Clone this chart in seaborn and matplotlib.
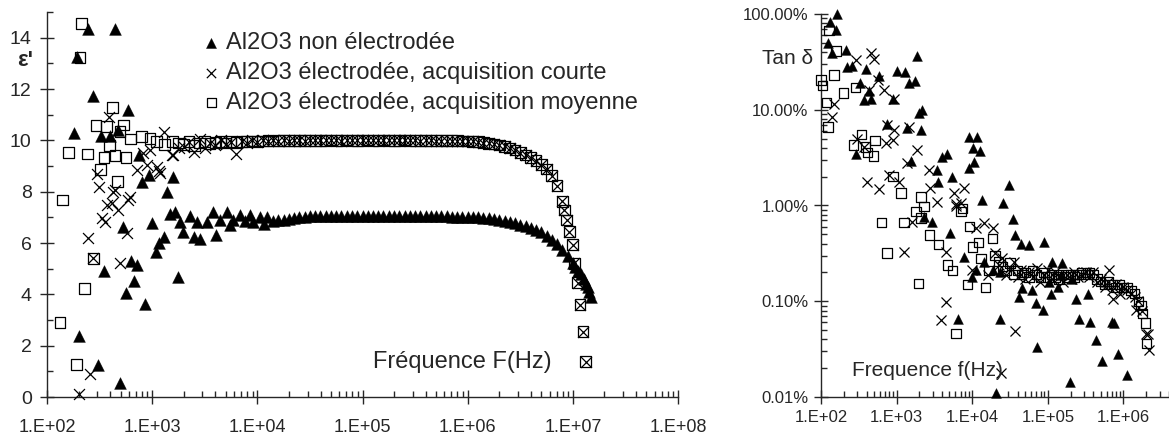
import matplotlib
matplotlib.use("Agg")
import matplotlib.pyplot as plt
from matplotlib import font_manager
from matplotlib.ticker import LogLocator, FuncFormatter, MultipleLocator, NullFormatter
import numpy as np
import pandas as pd
import seaborn as sns

sns.set_style("ticks")
plt.rcParams['font.family'] = ['Liberation Sans', 'DejaVu Sans']

# ---------------- data ----------------
# frequency sweep grid (Hz) shared by the dense parts of the measurements
f_sweep = [2.00e3, 2.24e3, 2.51e3, 2.82e3, 3.16e3, 3.55e3, 3.98e3, 4.47e3, 5.01e3, 5.62e3,
           6.31e3, 7.08e3, 7.94e3, 8.91e3,
           1.00e4, 1.12e4, 1.26e4, 1.41e4, 1.58e4, 1.78e4, 2.00e4, 2.24e4, 2.51e4, 2.82e4,
           3.16e4, 3.55e4, 3.98e4, 4.47e4, 5.01e4, 5.62e4, 6.31e4, 7.08e4, 7.94e4, 8.91e4,
           1.00e5, 1.12e5, 1.26e5, 1.41e5, 1.58e5, 1.78e5, 2.00e5, 2.24e5, 2.51e5, 2.82e5,
           3.16e5, 3.55e5, 3.98e5, 4.47e5, 5.01e5, 5.62e5, 6.31e5, 7.08e5, 7.94e5, 8.91e5,
           1.00e6, 1.12e6, 1.26e6, 1.41e6, 1.58e6, 1.78e6, 2.00e6, 2.24e6, 2.51e6, 2.82e6,
           3.16e6, 3.55e6, 3.98e6, 4.47e6, 5.01e6, 5.62e6, 6.31e6, 7.08e6, 7.94e6, 8.91e6,
           1.00e7]

labels = ['Al2O3 non électrodée',
          'Al2O3 électrodée, acquisition courte',
          'Al2O3 électrodée, acquisition moyenne']

left_xticks = [1e2, 1e3, 1e4, 1e5, 1e6, 1e7, 1e8]
right_xticks = [1e2, 1e3, 1e4, 1e5, 1e6]
right_yticks = [1e-4, 1e-3, 1e-2, 1e-1, 1]

# --- epsilon' , non electrodee (triangles)
eps_tri_f = [181, 192, 203, 244, 276, 308, 324, 348, 398, 444, 477, 495, 532, 565, 595,
             627, 677, 715, 752, 808, 858, 924, 990, 1090, 1170, 1300, 1380, 1486, 1570,
             1650, 1750, 1850, 1980, 2270, 2480, 2650, 2850, 3320, 3800, 4080, 4450, 5160,
             5500, 5890, 6870, 7600, 8600, 9100, 10700, 11500, 12400]
eps_tri_v = [10.30, 13.24, 2.39, 14.33, 11.71, 1.25, 10.15, 4.89, 10.15, 14.33, 10.41, 0.53,
             6.64, 4.04, 11.19, 5.30, 4.53, 5.15, 9.43, 8.36, 3.61, 8.65, 6.77, 5.63, 5.99,
             6.25, 7.97, 7.13, 8.59, 7.22, 4.69, 6.83, 6.44, 7.06, 6.23, 6.83, 6.15, 6.83,
             7.22, 6.32, 6.90, 7.22, 6.70, 6.90, 7.10, 6.85, 7.10, 6.80, 7.03, 6.75, 7.00]
eps_tri_sweep = [6.85, 6.90, 6.88, 6.95, 6.97, 7.00, 7.02, 7.04, 7.05, 7.05, 7.06, 7.05,
                 7.06, 7.05, 7.06, 7.05, 7.06,
                 7.05, 7.06, 7.05, 7.05, 7.06, 7.05, 7.05, 7.06, 7.05, 7.05, 7.05, 7.05,
                 7.04, 7.05, 7.04, 7.04, 7.04, 7.03, 7.03, 7.02,
                 7.02, 7.01, 7.00, 6.98, 6.96, 6.93, 6.90, 6.86, 6.82, 6.77, 6.72, 6.67,
                 6.60, 6.52, 6.42, 6.28, 6.12, 5.95, 5.74, 5.50, 5.22]
eps_tri_tail_f = [1.06e7, 1.12e7, 1.20e7, 1.27e7, 1.33e7, 1.38e7, 1.44e7, 1.50e7]
eps_tri_tail_v = [5.05, 4.92, 4.78, 4.58, 4.42, 4.28, 4.08, 3.88]

# --- epsilon' , electrodee acquisition courte (crosses)
eps_crs_f = [203, 247, 257, 276, 301, 315, 331, 356, 370, 392, 413, 427, 444, 477, 495,
             574, 595, 618, 715, 826, 890, 954, 1110, 1150, 1190, 1300, 1540, 1590, 1800]
eps_crs_v = [0.12, 6.19, 0.90, 5.41, 8.69, 8.17, 6.97, 6.83, 7.49, 10.90, 7.55, 8.00, 8.07,
             7.29, 5.24, 6.38, 7.68, 7.81, 8.85, 9.50, 9.05, 9.63, 8.98, 8.79, 8.72, 10.34,
             9.43, 9.43, 9.70]
eps_crs_sweep = [9.75, 9.95, 9.55, 10.05, 9.70, 9.90, 9.80, 10.00, 9.85, 9.95, 9.45, 9.98,
                 9.90, 10.02,
                 9.95, 10.00, 9.97, 10.00, 9.98, 10.02, 9.99, 10.00, 10.01, 9.99, 10.00,
                 10.01, 10.00, 10.00, 10.01, 10.00, 9.99, 10.00, 10.01, 10.00,
                 10.00, 10.00, 10.01, 10.00, 10.00, 10.01, 10.00, 10.00, 10.00, 10.01,
                 10.00, 9.99, 10.00, 10.00, 9.99, 9.98, 9.99, 9.98, 9.97, 9.97,
                 9.96, 9.96, 9.94, 9.91, 9.89, 9.85, 9.81, 9.76, 9.70, 9.61, 9.52, 9.43,
                 9.32, 9.19, 9.05, 8.87, 8.60, 8.24, 7.62]
eps_tail_f = [8.27e6, 8.77e6, 9.22e6, 9.93e6, 1.03e7, 1.11e7, 1.17e7, 1.25e7, 1.33e7]
eps_tail_v = [7.29, 6.90, 6.44, 5.93, 5.21, 4.46, 3.59, 2.55, 1.38]

# --- epsilon' , electrodee acquisition moyenne (squares)
eps_sq_f = [133, 141, 160, 192, 206, 214, 226, 242, 276, 293, 320, 348, 370, 392, 423,
            444, 468, 495, 532, 565, 618, 798, 954, 1100, 1300, 1550, 1780]
eps_sq_v = [2.90, 7.68, 9.52, 1.27, 13.24, 14.54, 4.24, 9.47, 5.41, 10.57, 8.87, 9.34,
            10.54, 9.79, 11.29, 9.40, 8.39, 10.34, 10.60, 9.34, 10.05, 10.15, 10.08, 9.95,
            9.85, 9.95, 9.90]
eps_sq_sweep = [9.85, 9.95, 9.80, 9.90, 9.95, 9.88, 9.92, 9.95, 9.90, 9.95, 9.93, 9.96,
                9.94, 9.97,
                9.96, 9.97, 9.98, 9.97, 9.98, 9.99, 9.98, 9.99, 10.00, 9.99, 10.00, 10.00,
                9.99, 10.00, 10.01, 10.00, 10.00, 10.01, 10.00, 10.00,
                10.00, 10.01, 10.00, 10.00, 10.01, 10.00, 10.00, 10.00, 10.01, 10.00,
                10.00, 9.99, 10.00, 9.99, 9.99, 9.99, 9.98, 9.98, 9.98, 9.97,
                9.97, 9.96, 9.94, 9.92, 9.89, 9.86, 9.82, 9.77, 9.70, 9.62, 9.53, 9.43,
                9.33, 9.20, 9.05, 8.88, 8.62, 8.25, 7.62]

# --- tan delta (fraction), non electrodee (triangles)
tan_tri_f = [124, 131, 141, 157, 164, 212, 223, 260, 288, 328, 371, 390, 432, 464, 586,
             756, 899, 1006, 1280, 1390, 1460, 1540, 1760, 1850, 1990, 2090, 2190, 2300,
             2980, 3400, 3500, 4030, 4570, 5100, 5480, 6400, 7800, 9000, 9130, 1.00e4,
             1.01e4, 1.07e4, 1.12e4, 1.17e4, 1.27e4, 1.33e4, 1.44e4, 1.86e4, 2.05e4, 2.30e4,
             2.30e4, 2.55e4, 3.10e4, 3.50e4, 3.70e4, 4.20e4, 4.40e4, 4.60e4, 5.60e4, 6.20e4,
             6.90e4, 7.20e4, 8.50e4, 8.90e4, 1.05e5, 1.10e5, 1.15e5, 1.35e5, 1.48e5, 1.56e5,
             1.94e5, 2.10e5, 2.36e5, 2.56e5, 3.37e5, 3.60e5, 4.30e5, 5.20e5, 7.10e5, 7.60e5,
             8.40e5, 1.10e6]
tan_tri_v = [0.50, 0.83, 0.39, 0.68, 1.00, 0.42, 0.28, 0.285, 0.0345, 0.19, 0.126, 0.265,
             0.158, 0.131, 0.225, 0.071, 0.131, 0.256, 0.25, 0.064, 0.19, 0.0294, 0.20,
             0.364, 0.092, 0.0615, 0.10, 0.0076, 0.0068, 0.0235, 0.0175, 0.0323, 0.0345,
             0.0052, 0.0197, 0.00066, 0.0029, 0.0245, 0.0523, 0.0018, 0.0396, 0.0283,
             0.0021, 0.0516, 0.0373, 0.0114, 0.0026, 0.0021, 0.00011, 0.00066, 0.0020,
             0.0105, 0.0164, 0.0073, 0.0049, 0.00112, 0.0040, 0.00137, 0.0039, 0.0013,
             0.00095, 0.000335, 0.00081, 0.0042, 0.0016, 0.0012, 0.0026, 0.0014, 0.0019,
             0.0025, 0.000145, 0.0017, 0.00105, 0.00065, 0.00118, 0.00061, 0.00039,
             0.00024, 0.00061, 0.00059, 0.00028, 0.00017]

# --- tan delta, electrodee acquisition courte (crosses)
tan_crs_f = [141, 149, 288, 303, 371, 410, 432, 464, 503, 568, 586, 682, 720, 756, 795,
             883, 926, 926, 1080, 1260, 1390, 1460, 1620, 1850, 2700, 2800, 3400, 3900,
             4500, 4500, 5800, 6100, 6100, 7100, 7800, 1.00e4, 1.12e4, 1.44e4, 1.60e4,
             1.86e4, 2.40e4, 3.70e4, 6.50e5, 7.20e5, 1.45e6, 2.10e6, 2.15e6]
tan_crs_v = [0.085, 0.115, 0.33, 0.05, 0.041, 0.0177, 0.16, 0.39, 0.34, 0.205, 0.0148,
             0.16, 0.045, 0.069, 0.021, 0.048, 0.128, 0.061, 0.0177, 0.0033, 0.0275, 0.066,
             0.0068, 0.038, 0.0235, 0.0152, 0.011, 0.00064, 0.00099, 0.0033, 0.0135, 0.0098,
             0.0104, 0.0105, 0.0152, 0.0021, 0.0058, 0.0065, 0.0019, 0.0058, 0.000177,
             0.00049, 0.0021, 0.00105, 0.00081, 0.00046, 0.00031]
tan_crs_sweep = [0.0032, 0.0024, 0.0028, 0.0019, 0.0022, 0.0026, 0.0018, 0.0021, 0.0017,
                 0.0020, 0.0018, 0.0022, 0.0016, 0.0019, 0.0021, 0.0017, 0.0020, 0.0018,
                 0.0016, 0.0019, 0.0017, 0.0020, 0.0018, 0.0019, 0.0020, 0.0018, 0.0020,
                 0.0016, 0.0017, 0.0014, 0.0016, 0.0013, 0.0015, 0.0012, 0.0014, 0.0013,
                 0.0012, 0.0011, 0.0010, 0.0008, 0.00045]

# --- tan delta, electrodee acquisition moyenne (squares)
tan_sq_f = [100, 104, 119, 124, 128, 149, 157, 197, 268, 288, 342, 390, 410, 492, 519,
            636, 742, 899, 1140, 1250, 1800, 1950, 2090, 2090, 2300, 2700, 3600, 4700,
            5500, 6100, 7100, 7500, 8700, 9200, 1.00e4, 1.20e4, 1.30e4, 1.50e4, 1.67e4,
            1.86e4, 1.70e6, 1.95e6]
tan_sq_v = [0.205, 0.18, 0.119, 0.066, 0.67, 0.23, 0.41, 0.15, 0.043, 0.17, 0.055, 0.041,
            0.036, 0.033, 0.048, 0.0066, 0.0032, 0.020, 0.0135, 0.0066, 0.0086, 0.00154,
            0.0123, 0.0074, 0.0098, 0.0049, 0.0039, 0.0024, 0.0021, 0.00046, 0.0086, 0.0093,
            0.0015, 0.006, 0.0037, 0.0041, 0.0028, 0.0014, 0.0021, 0.0045, 0.0009, 0.00059]
tan_sq_sweep = [0.0030, 0.0026, 0.0023, 0.0021, 0.0025, 0.0019, 0.0021, 0.0019, 0.0020,
                0.0018, 0.0021, 0.0019, 0.0018, 0.0020, 0.0018, 0.0019, 0.0018, 0.0017,
                0.0019, 0.0018, 0.0019, 0.0018, 0.0019, 0.0020, 0.0019, 0.0020, 0.0019,
                0.0017, 0.0016, 0.0015, 0.0016, 0.0015, 0.0014, 0.0015, 0.0014, 0.0014,
                0.0013, 0.0012, 0.0010, 0.00075, 0.00036]

# ---------------- tables ----------------
i_tri, i_band, i_tan = 17, 0, 20   # where the sweeps start in f_sweep


def serie(fs, vs, name):
    return pd.DataFrame({'f': fs, 'v': vs, 'serie': name})


df_eps = pd.concat([
    serie(eps_tri_f + f_sweep[i_tri:i_tri + len(eps_tri_sweep)] + eps_tri_tail_f,
          eps_tri_v + eps_tri_sweep + eps_tri_tail_v, labels[0]),
    serie(eps_crs_f + f_sweep[i_band:i_band + len(eps_crs_sweep)] + eps_tail_f,
          eps_crs_v + eps_crs_sweep + eps_tail_v, labels[1]),
    serie(eps_sq_f + f_sweep[i_band:i_band + len(eps_sq_sweep)] + eps_tail_f,
          eps_sq_v + eps_sq_sweep + eps_tail_v, labels[2]),
])
df_tan = pd.concat([
    serie(tan_tri_f, tan_tri_v, labels[0]),
    serie(tan_crs_f + f_sweep[i_tan:i_tan + len(tan_crs_sweep)],
          tan_crs_v + tan_crs_sweep, labels[1]),
    serie(tan_sq_f + f_sweep[i_tan:i_tan + len(tan_sq_sweep)],
          tan_sq_v + tan_sq_sweep, labels[2]),
])

# ---------------- fonts ----------------
narrow_ok = any(f.name == 'Liberation Sans Narrow' for f in font_manager.fontManager.ttflist)
narrow = ['Liberation Sans Narrow', 'DejaVu Sans'] if narrow_ok else ['Liberation Sans', 'DejaVu Sans']
narrow_size = 17 if narrow_ok else 15

# ---------------- figure ----------------
W, H = 1169, 436
fig = plt.figure(figsize=(W / 100, H / 100), dpi=100)
ax1 = fig.add_axes([47 / W, 39 / H, 631 / W, 385 / H])
ax2 = fig.add_axes([821 / W, 39 / H, 348 / W, 383 / H])


def draw(ax, df, sizes):
    d = df[df.serie == labels[0]]
    sns.scatterplot(data=d, x='f', y='v', ax=ax, marker='^', color='black',
                    edgecolor='black', linewidth=0.3, s=sizes[0], label=labels[0],
                    clip_on=False, zorder=3)
    d = df[df.serie == labels[1]]
    sns.scatterplot(data=d, x='f', y='v', ax=ax, marker='x', color='black',
                    linewidth=0.9, s=sizes[1], label=labels[1], clip_on=False, zorder=3)
    d = df[df.serie == labels[2]]
    sns.scatterplot(data=d, x='f', y='v', ax=ax, marker='s', color='black',
                    facecolor='none', edgecolor='black', linewidth=0.9, s=sizes[2],
                    label=labels[2], clip_on=False, zorder=3)


draw(ax1, df_eps, (72, 62, 60))
draw(ax2, df_tan, (50, 52, 46))

xfmt = FuncFormatter(lambda v, p: '1.E+%02d' % int(round(np.log10(v))))

for ax in (ax1, ax2):
    ax.set_xscale('log')
    ax.xaxis.set_minor_locator(LogLocator(base=10, subs=range(2, 10), numticks=20))
    ax.xaxis.set_minor_formatter(NullFormatter())
    ax.set_xlabel('')
    ax.set_ylabel('')
    for s in ('top', 'right'):
        ax.spines[s].set_visible(False)
    for s in ('left', 'bottom'):
        ax.spines[s].set_linewidth(1.0)
    ax.tick_params(which='major', direction='inout', length=10, width=1.0)
    ax.tick_params(which='minor', direction='in', length=4, width=1.0)
    ax.get_legend().remove()

# left panel
ax1.set_xlim(1e2, 1e8)
ax1.set_xticks(left_xticks)
ax1.xaxis.set_major_formatter(xfmt)
ax1.set_ylim(0, 15)
ax1.set_yticks(range(0, 15, 2))
ax1.yaxis.set_minor_locator(MultipleLocator(1))
ax1.tick_params(axis='y', which='major', labelsize=14, pad=6)
ax1.tick_params(axis='x', which='major', labelsize=13, pad=11)

h, l = ax1.get_legend_handles_labels()
ax1.legend(h, l, loc='upper left', bbox_to_anchor=(204 / W, 1 - 32 / H),
           bbox_transform=fig.transFigure, frameon=False, fontsize=17,
           handlelength=0.6, handletextpad=0.35, labelspacing=0.33,
           borderpad=0, borderaxespad=0, markerscale=0.85)

fig.text(373 / W, 1 - 362 / H, 'Fréquence F(Hz)', fontsize=17, va='center', ha='left')
fig.text(25 / W, 1 - 61 / H, "ε'", fontsize=16, fontweight='bold', va='center', ha='center')

# right panel
ax2.set_yscale('log')
ax2.set_xlim(1e2, 4.0e6)
ax2.set_xticks(right_xticks)
ax2.xaxis.set_major_formatter(xfmt)
ax2.set_ylim(1e-4, 1)
ax2.set_yticks(right_yticks)
ax2.yaxis.set_minor_locator(LogLocator(base=10, subs=range(2, 10), numticks=10))
ax2.yaxis.set_major_formatter(FuncFormatter(lambda v, p: '%.2f%%' % (v * 100)))
ax2.yaxis.set_minor_formatter(NullFormatter())
ax2.tick_params(axis='both', which='major', labelsize=12, pad=4)

fig.text(762 / W, 1 - 58 / H, 'Tan δ', fontsize=narrow_size, family=narrow,
         va='center', ha='left')
fig.text(852 / W, 1 - 370 / H, 'Frequence f(Hz)', fontsize=narrow_size, family=narrow,
         va='center', ha='left')

fig.savefig('out.png', dpi=100)
